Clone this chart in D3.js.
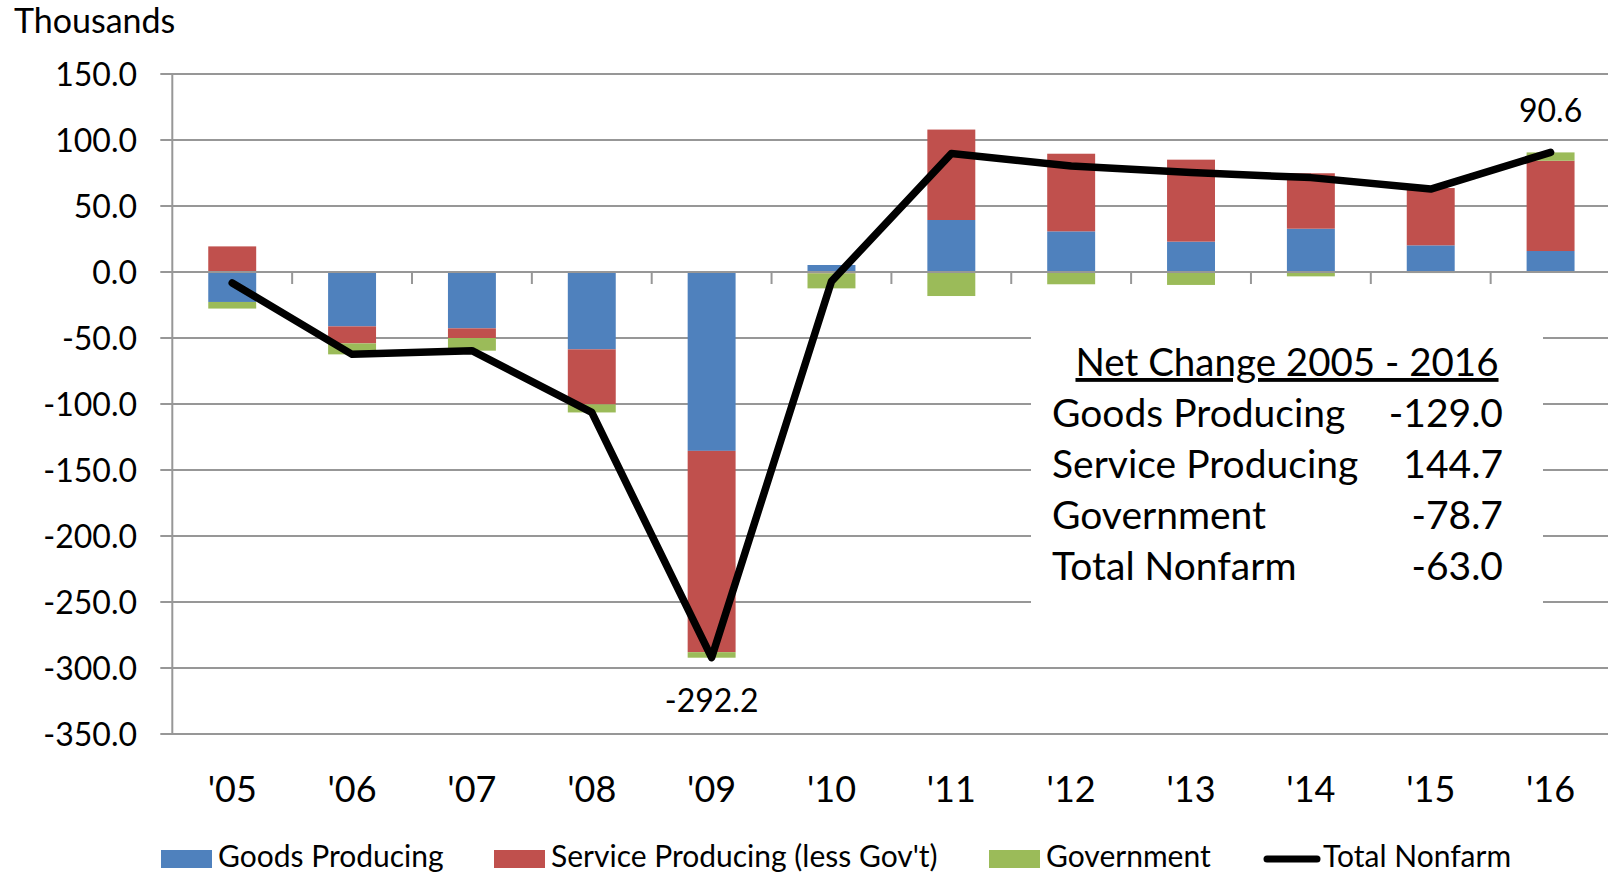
<!DOCTYPE html>
<html>
<head>
<meta charset="utf-8">
<script src="https://cdn.jsdelivr.net/npm/d3@7"></script>
<style>
  html, body { margin: 0; padding: 0; background: #fff; }
  svg { display: block; font-family: Lato, "Open Sans", sans-serif; }
</style>
</head>
<body>
<svg id="chart" width="1608" height="874"></svg>
<script>
// ---- data ----
const categories = ["'05", "'06", "'07", "'08", "'09", "'10", "'11", "'12", "'13", "'14", "'15", "'16"];
const goods      = [-22.7, -41.2, -42.7, -58.6, -135.5, 5.3, 39.4, 30.8, 23.0, 32.8, 20.2, 15.9];
const service    = [19.4, -12.9, -7.3, -41.7, -152.5, -1.0, 68.5, 58.8, 62.1, 42.0, 43.4, 68.4];
const government = [-5.0, -8.3, -9.6, -6.1, -4.2, -11.4, -18.2, -9.3, -9.8, -3.3, -0.8, 6.3];
const total      = [-8.3, -62.4, -59.6, -106.4, -292.2, -7.1, 89.7, 80.3, 75.3, 71.5, 62.8, 90.6];
const yTicks     = [150, 100, 50, 0, -50, -100, -150, -200, -250, -300, -350];
const seriesNames = ["Goods Producing", "Service Producing (less Gov't)", "Government", "Total Nonfarm"];
const netLabels  = ["Goods Producing", "Service Producing", "Government", "Total Nonfarm"];
const netValues  = [-129.0, 144.7, -78.7, -63.0];
const netTitle   = "Net Change 2005 - 2016";
const labeledPoints = ["'09", "'16"];

const colors = { goods: "#4F81BD", service: "#C0504D", government: "#9BBB59", total: "#000000" };

// ---- layout ----
const svg = d3.select("#chart");
const plotLeft = 172.3, step = 119.85;
const plotRight = plotLeft + step * categories.length;
const plotTop = 74, plotBottom = 734;

const x = d3.scaleBand().domain(categories).range([plotLeft, plotRight]).paddingInner(0.6).paddingOuter(0.3);
const y = d3.scaleLinear().domain([-350, 150]).range([plotBottom, plotTop]);
const fmt = d3.formatLocale({ decimal: ".", thousands: ",", grouping: [3], currency: ["$", ""], minus: "-" }).format(".1f");
const gridColor = "#979797";

// gridlines (with left tick stubs)
svg.append("g").selectAll("line").data(yTicks.filter(d => d !== 0)).join("line")
  .attr("x1", plotLeft - 12).attr("x2", 1608)
  .attr("y1", d => y(d)).attr("y2", d => y(d))
  .attr("stroke", gridColor).attr("stroke-width", 2);

// y axis line
svg.append("line").attr("x1", plotLeft).attr("x2", plotLeft)
  .attr("y1", y(150)).attr("y2", y(-350))
  .attr("stroke", gridColor).attr("stroke-width", 2);

// y tick labels
svg.append("g").selectAll("text").data(yTicks).join("text")
  .attr("x", 137).attr("y", d => y(d)).attr("dy", "0.36em")
  .attr("text-anchor", "end").attr("font-size", 32).attr("fill", "#000")
  .text(d => fmt(d));

// "Thousands"
svg.append("text").attr("x", 14).attr("y", 33).attr("font-size", 34).text("Thousands");

// summary box (white, hides gridlines)
svg.append("rect").attr("x", 1031).attr("y", 316).attr("width", 512).attr("height", 308).attr("fill", "#fff");

// stacked bars
const rows = categories.map((c, i) => ({ cat: c, goods: goods[i], service: service[i], government: government[i] }));
const stack = d3.stack().keys(["goods", "service", "government"]).offset(d3.stackOffsetDiverging);
const stacked = stack(rows);
svg.append("g").selectAll("g").data(stacked).join("g")
  .attr("fill", s => colors[s.key])
  .selectAll("rect").data(s => s).join("rect")
  .attr("x", d => x(d.data.cat))
  .attr("width", x.bandwidth())
  .attr("y", d => y(Math.max(d[0], d[1])))
  .attr("height", d => Math.abs(y(d[0]) - y(d[1])));

// category axis at zero with tick marks at band boundaries
svg.append("line").attr("x1", plotLeft - 12).attr("x2", 1608)
  .attr("y1", y(0)).attr("y2", y(0))
  .attr("stroke", gridColor).attr("stroke-width", 2);
svg.append("g").selectAll("line").data(categories.slice(1)).join("line")
  .attr("x1", c => x(c) - (step - x.bandwidth()) / 2)
  .attr("x2", c => x(c) - (step - x.bandwidth()) / 2)
  .attr("y1", y(0)).attr("y2", y(0) + 12)
  .attr("stroke", gridColor).attr("stroke-width", 2);

// x tick labels
svg.append("g").selectAll("text").data(categories).join("text")
  .attr("x", c => x(c) + x.bandwidth() / 2).attr("y", 802)
  .attr("text-anchor", "middle").attr("font-size", 36).text(c => c);

// total line
const line = d3.line().x((d, i) => x(categories[i]) + x.bandwidth() / 2).y(d => y(d));
svg.append("path").datum(total).attr("d", line)
  .attr("fill", "none").attr("stroke", colors.total).attr("stroke-width", 7.5)
  .attr("stroke-linecap", "round").attr("stroke-linejoin", "round");

// point labels
svg.append("g").selectAll("text").data(labeledPoints).join("text")
  .attr("x", c => x(c) + x.bandwidth() / 2)
  .attr("y", c => { const v = total[categories.indexOf(c)]; return v < 0 ? y(v) + 54 : y(v) - 30; })
  .attr("text-anchor", "middle").attr("font-size", 32)
  .text(c => fmt(total[categories.indexOf(c)]));

// summary text
const box = svg.append("g");
box.append("text").attr("x", 1287).attr("y", 376).attr("text-anchor", "middle")
  .attr("font-size", 38.5).attr("text-decoration", "underline").text(netTitle);
box.selectAll("text.lab").data(netLabels).join("text").attr("class", "lab")
  .attr("x", 1052).attr("y", (d, i) => 427 + i * 51).attr("font-size", 39).text(d => d);
box.selectAll("text.val").data(netValues).join("text").attr("class", "val")
  .attr("x", 1503).attr("y", (d, i) => 427 + i * 51).attr("text-anchor", "end")
  .attr("font-size", 39).text(d => fmt(d));

// legend
const legendItems = [
  { name: seriesNames[0], color: colors.goods, type: "rect", sx: 161, tx: 218 },
  { name: seriesNames[1], color: colors.service, type: "rect", sx: 494, tx: 551 },
  { name: seriesNames[2], color: colors.government, type: "rect", sx: 989, tx: 1046 },
  { name: seriesNames[3], color: colors.total, type: "line", sx: 1264, tx: 1323 }
];
const lg = svg.append("g").selectAll("g").data(legendItems).join("g");
lg.filter(d => d.type === "rect").append("rect")
  .attr("x", d => d.sx).attr("y", 850).attr("width", 51).attr("height", 18).attr("fill", d => d.color);
lg.filter(d => d.type === "line").append("line")
  .attr("x1", d => d.sx + 3).attr("x2", d => d.sx + 53).attr("y1", 859).attr("y2", 859)
  .attr("stroke", d => d.color).attr("stroke-width", 7).attr("stroke-linecap", "round");
lg.append("text").attr("x", d => d.tx).attr("y", 867).attr("font-size", 30).text(d => d.name);
</script>
</body>
</html>
